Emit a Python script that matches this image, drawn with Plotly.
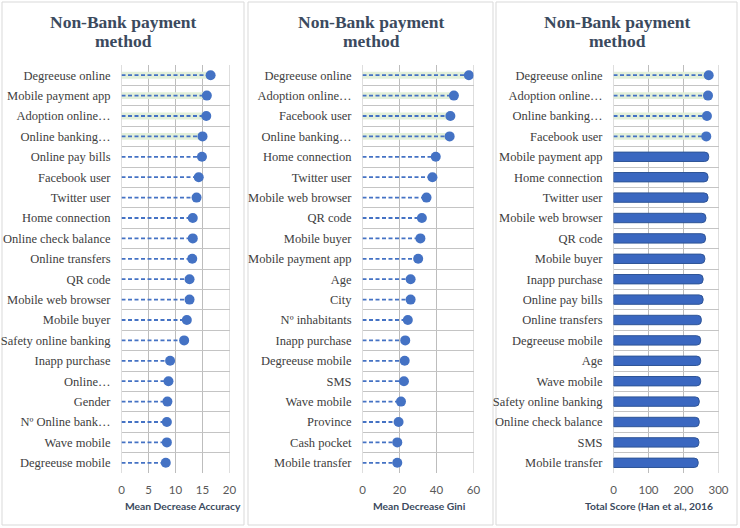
import plotly.graph_objects as go

# Panel 1: Mean Decrease Accuracy
labels1 = ["Degreeuse online", "Mobile payment app", "Adoption online…", "Online banking…",
           "Online pay bills", "Facebook user", "Twitter user", "Home connection",
           "Online check balance", "Online transfers", "QR code", "Mobile web browser",
           "Mobile buyer", "Safety online banking", "Inapp purchase", "Online…",
           "Gender", "Nº Online bank…", "Wave mobile", "Degreeuse mobile"]
values1 = [16.5, 15.8, 15.7, 15.0, 14.9, 14.3, 13.9, 13.2, 13.2, 13.1,
           12.6, 12.6, 12.1, 11.6, 9.0, 8.7, 8.5, 8.4, 8.4, 8.2]

# Panel 2: Mean Decrease Gini
labels2 = ["Degreeuse online", "Adoption online…", "Facebook user", "Online banking…",
           "Home connection", "Twitter user", "Mobile web browser", "QR code",
           "Mobile buyer", "Mobile payment app", "Age", "City", "Nº inhabitants",
           "Inapp purchase", "Degreeuse mobile", "SMS", "Wave mobile", "Province",
           "Cash pocket", "Mobile transfer"]
values2 = [57.5, 49.4, 47.5, 47.1, 39.6, 37.8, 34.6, 32.1, 31.3, 30.1,
           26.0, 26.0, 24.5, 23.1, 22.8, 22.4, 20.8, 19.5, 18.8, 18.8]

# Panel 3: Total Score (Han et al., 2016)
labels3 = ["Degreeuse online", "Adoption online…", "Online banking…", "Facebook user",
           "Mobile payment app", "Home connection", "Twitter user", "Mobile web browser",
           "QR code", "Mobile buyer", "Inapp purchase", "Online pay bills",
           "Online transfers", "Degreeuse mobile", "Age", "Wave mobile",
           "Safety online banking", "Online check balance", "SMS", "Mobile transfer"]
values3 = [272, 270, 267, 265, 272, 270, 270, 264, 263, 261,
           256, 256, 251, 249, 249, 249, 245, 245, 244, 242]

xmax = [20, 60, 300]
xstep = [5, 20, 100]

TOP = 4          # rows highlighted in green (and drawn as lollipops in panel 3)
BLUE = "#4472C4"
GREEN = "#e2efd9"
GRID = "#c4c4c4"


def lollipop(fig, labels, values, n, xa, ya):
    fig.add_trace(go.Bar(x=values[:TOP], y=labels[:TOP], orientation="h", width=0.34,
                         marker=dict(color=GREEN, line_width=0), xaxis=xa, yaxis=ya,
                         hoverinfo="skip"))
    xs, ys = [], []
    for lab, v in zip(labels[:n], values[:n]):
        xs += [0, v, None]
        ys += [lab, lab, None]
    fig.add_trace(go.Scatter(x=xs, y=ys, mode="lines", xaxis=xa, yaxis=ya,
                             line=dict(color=BLUE, width=1.8, dash="4px,2.5px")))
    fig.add_trace(go.Scatter(x=values[:n], y=labels[:n], mode="markers", xaxis=xa, yaxis=ya,
                             marker=dict(color=BLUE, size=10)))


def main():
    fig = go.Figure()
    lollipop(fig, labels1, values1, len(labels1), "x", "y")
    lollipop(fig, labels2, values2, len(labels2), "x2", "y2")
    lollipop(fig, labels3, values3, TOP, "x3", "y3")
    fig.add_trace(go.Bar(x=values3[TOP:], y=labels3[TOP:], orientation="h", width=0.46,
                         marker=dict(color="#3a67c0", line=dict(color="#2f5597", width=1),
                                     cornerradius=4),
                         xaxis="x3", yaxis="y3"))

    # pixel domains chosen so tick spacing is a whole number of pixels
    doms = [[121.5 / 740, 229.5 / 740], [362.5 / 740, 473.5 / 740], [613.5 / 740, 718.5 / 740]]
    labs = [labels1, labels2, labels3]
    ydom = [1 - 473 / 528, 1 - 65 / 528]

    layout = dict(
        width=740, height=528, margin=dict(l=0, r=0, t=0, b=0),
        paper_bgcolor="white", plot_bgcolor="rgba(0,0,0,0)", showlegend=False,
        barmode="overlay", template="none",
    )
    for i in range(3):
        s = "" if i == 0 else str(i + 1)
        layout["xaxis" + s] = dict(
            domain=doms[i], range=[0, xmax[i]], tickmode="linear", tick0=0, dtick=xstep[i],
            anchor="y" + s, showgrid=False, zeroline=False, showline=False,
            ticks="", ticklabelstandoff=8, automargin=False,
            tickfont=dict(family="Lato", size=11.5, color="#595959"), fixedrange=True)
        layout["yaxis" + s] = dict(
            domain=ydom, anchor="x" + s, type="category", categoryorder="array",
            categoryarray=labs[i], range=[len(labs[i]) - 0.5, -0.5], tickson="boundaries",
            showgrid=True, gridcolor=GRID, gridwidth=1, zeroline=False, showline=False,
            ticks="", ticklabelstandoff=10, automargin=False,
            tickfont=dict(family="Liberation Serif", size=12.5, color="#404040"),
            fixedrange=True)
        # vertical gridlines at the tick positions
        for v in range(0, xmax[i] + 1, xstep[i]):
            fig.add_shape(type="line", xref="x" + s, yref="y" + s + " domain",
                          x0=v, x1=v, y0=0, y1=1, layer="below",
                          line=dict(color="#bdbdbd", width=1))
    fig.update_layout(**layout)

    # panel frames
    for x0, x1 in [(2, 244), (248, 493), (496, 737)]:
        fig.add_shape(type="rect", xref="paper", yref="paper",
                      x0=x0 / 740, x1=x1 / 740, y0=1 - 525 / 528, y1=1 - 2 / 528,
                      line=dict(color="#d9d9d9", width=1), layer="below")

    # titles, one annotation per line
    for cx in [123, 371, 617]:
        for y, line in [(22, "Non-Bank payment"), (41, "method")]:
            fig.add_annotation(text="<b>" + line + "</b>", xref="paper", yref="paper",
                               x=cx / 740, y=1 - y / 528, showarrow=False,
                               font=dict(family="Liberation Serif", size=17.5, color="#3b4a5e"),
                               xanchor="center", yanchor="middle")

    # axis titles
    for cx, t in [(183, "Mean Decrease Accuracy"), (419, "Mean Decrease Gini"),
                  (649, "Total Score (Han et al., 2016")]:
        fig.add_annotation(text="<b>" + t + "</b>", xref="paper", yref="paper",
                           x=cx / 740, y=1 - 506 / 528, showarrow=False,
                           font=dict(family="Lato", size=10.3, color="#3b4a5e"),
                           xanchor="center", yanchor="middle")

    fig.write_html("out.html", config={"displayModeBar": False},
                   post_script="document.body.style.margin='0';")


if __name__ == "__main__":
    main()
